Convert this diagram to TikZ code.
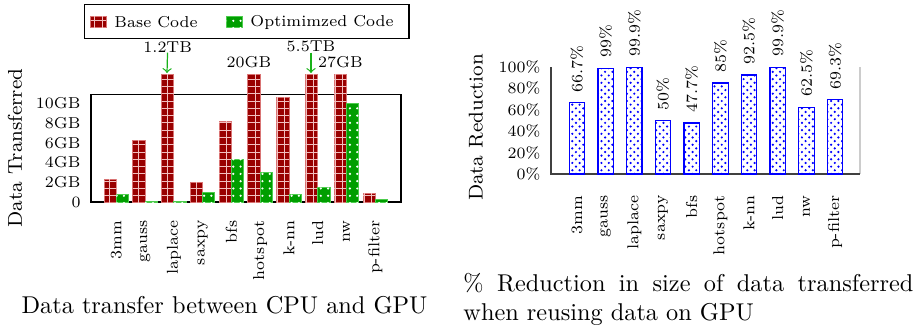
\documentclass[tikz,border=0pt]{standalone}
\usetikzlibrary{patterns}

\newlength{\du}
\setlength{\du}{0.4115pt}

\definecolor{basered}{rgb}{0.600000, 0.000000, 0.000000}
\definecolor{baseedge}{rgb}{0.850000, 0.450000, 0.450000}
\definecolor{basegrid}{rgb}{0.950000, 0.750000, 0.750000}
\definecolor{optgreen}{rgb}{0.000000, 0.620000, 0.000000}
\definecolor{optedge}{rgb}{0.300000, 0.800000, 0.300000}
\definecolor{markgreen}{rgb}{0.100000, 0.700000, 0.100000}
\definecolor{redblue}{rgb}{0.000000, 0.000000, 1.000000}

\tikzset{
  basebar/.style={fill=basered, draw=baseedge, line width=0.4pt,
    postaction={pattern=grid, pattern color=basegrid}},
  optbar/.style={fill=optgreen, draw=optedge, line width=0.4pt,
    postaction={pattern=dots, pattern color=white}},
  redbar/.style={fill=white, draw=redblue, line width=0.5pt,
    postaction={pattern=crosshatch dots, pattern color=redblue}},
  smalltxt/.style={font=\fontsize{6.5}{7.5}\selectfont, inner sep=0pt},
  ticklbl/.style={smalltxt, anchor=east},
  benchlbl/.style={smalltxt, rotate=90, anchor=east},
  pctlbl/.style={smalltxt, rotate=90, anchor=west},
  axislbl/.style={font=\fontsize{8.2}{9.5}\selectfont, rotate=90, inner sep=0pt},
  bigmark/.style={smalltxt},
  capt/.style={font=\fontsize{10}{12}\selectfont, inner sep=0pt}
}

\begin{document}
\begin{tikzpicture}
\pgftransformxscale{1.000000}
\pgftransformyscale{-1.000000}
\useasboundingbox (0\du,0\du) rectangle (923\du,327\du);

% left plot: frame
\draw[line width=0.5pt] (91\du,94.3\du) rectangle (401\du,202\du);
% base code bars
\draw[basebar] (104.0\du,202\du) rectangle (116.3\du,179.3\du);
\draw[basebar] (132.8\du,202\du) rectangle (145.1\du,140.0\du);
\draw[basebar] (161.6\du,202\du) rectangle (173.9\du,74.0\du);
\draw[basebar] (190.3\du,202\du) rectangle (202.6\du,182.0\du);
\draw[basebar] (219.1\du,202\du) rectangle (231.4\du,121.3\du);
\draw[basebar] (247.9\du,202\du) rectangle (260.2\du,74.0\du);
\draw[basebar] (276.7\du,202\du) rectangle (289.0\du,97.3\du);
\draw[basebar] (305.5\du,202\du) rectangle (317.8\du,74.0\du);
\draw[basebar] (334.2\du,202\du) rectangle (346.5\du,74.0\du);
\draw[basebar] (363.0\du,202\du) rectangle (375.3\du,193.7\du);
% optimized bars
\draw[optbar] (116.3\du,202\du) rectangle (128.6\du,194.3\du);
\draw[optbar] (145.1\du,202\du) rectangle (157.4\du,201.3\du);
\draw[optbar] (173.9\du,202\du) rectangle (186.2\du,201.3\du);
\draw[optbar] (202.6\du,202\du) rectangle (214.9\du,192.0\du);
\draw[optbar] (231.4\du,202\du) rectangle (243.7\du,159.7\du);
\draw[optbar] (260.2\du,202\du) rectangle (272.5\du,172.0\du);
\draw[optbar] (289.0\du,202\du) rectangle (301.3\du,194.0\du);
\draw[optbar] (317.8\du,202\du) rectangle (330.1\du,187.0\du);
\draw[optbar] (346.5\du,202\du) rectangle (358.8\du,103.0\du);
\draw[optbar] (375.3\du,202\du) rectangle (387.6\du,199.0\du);

% y ticks
\node[ticklbl] (lt0) at (81\du,202.0\du){0};
\node[ticklbl] (lt2) at (81\du,182.2\du){2GB};
\node[ticklbl] (lt4) at (81\du,162.4\du){4GB};
\node[ticklbl] (lt6) at (81\du,142.6\du){6GB};
\node[ticklbl] (lt8) at (81\du,122.8\du){8GB};
\node[ticklbl] (lt10) at (81\du,103.0\du){10GB};
\node[axislbl] (lylabel) at (15\du,148\du){Data Transferred};

% benchmark names
\node[benchlbl] (lb3mm) at (116.3\du,220\du){3mm};
\node[benchlbl] (lbgauss) at (145.1\du,220\du){gauss};
\node[benchlbl] (lblaplace) at (173.9\du,220\du){laplace};
\node[benchlbl] (lbsaxpy) at (202.6\du,220\du){saxpy};
\node[benchlbl] (lbbfs) at (231.4\du,220\du){bfs};
\node[benchlbl] (lbhotspot) at (260.2\du,220\du){hotspot};
\node[benchlbl] (lbknn) at (289.0\du,220\du){k-nn};
\node[benchlbl] (lblud) at (317.8\du,220\du){lud};
\node[benchlbl] (lbnw) at (346.5\du,220\du){nw};
\node[benchlbl] (lbpfilter) at (375.3\du,220\du){p-filter};

% values of the clipped bars
\node[bigmark] (tblaplace) at (167.7\du,46.7\du){1.2TB};
\node[bigmark] (tbhotspot) at (249.0\du,61.7\du){20GB};
\node[bigmark] (tblud) at (311.0\du,46.7\du){5.5TB};
\node[bigmark] (tbnw) at (340.4\du,61.7\du){27GB};
\coordinate (toplaplace) at (167.0\du,73.0\du);
\coordinate (toplud) at (311.0\du,73.0\du);
\draw[->, markgreen, line width=0.5pt] (tblaplace) -- (toplaplace);
\draw[->, markgreen, line width=0.5pt] (tblud) -- (toplud);

% legend
\node[draw=black, line width=0.5pt, minimum width=324.7\du, minimum height=34\du, inner sep=0pt] (legend) at (246.7\du,21.7\du){};
\draw[basebar] (90.7\du,16\du) rectangle (106\du,27\du);
\node[bigmark, anchor=west] (lgbase) at (114\du,22\du){Base Code};
\draw[optbar] (226.7\du,16\du) rectangle (242\du,27\du);
\node[bigmark, anchor=west] (lgopt) at (250\du,22\du){Optimimzed Code};

\node[capt] (leftcap) at (224.5\du,305.5\du){Data transfer between CPU and GPU};

% right plot: axis
\draw[black!20, line width=0.5pt] (860\du,67\du) -- (860\du,174\du);
\draw[black!75, line width=0.6pt] (551\du,67\du) -- (551\du,174\du) -- (860\du,174\du);
\draw[redbar] (569.3\du,174\du) rectangle (584.7\du,102.6\du);
\draw[redbar] (598.0\du,174\du) rectangle (613.4\du,68.1\du);
\draw[redbar] (626.6\du,174\du) rectangle (642.0\du,67.1\du);
\draw[redbar] (655.3\du,174\du) rectangle (670.7\du,120.5\du);
\draw[redbar] (684.0\du,174\du) rectangle (699.4\du,123.0\du);
\draw[redbar] (712.7\du,174\du) rectangle (728.1\du,83.0\du);
\draw[redbar] (741.3\du,174\du) rectangle (756.7\du,75.0\du);
\draw[redbar] (770.0\du,174\du) rectangle (785.4\du,67.1\du);
\draw[redbar] (798.7\du,174\du) rectangle (814.1\du,107.1\du);
\draw[redbar] (827.3\du,174\du) rectangle (842.7\du,99.8\du);

% percentages above bars
\node[pctlbl] (rv3mm) at (577.0\du,92.6\du){66.7\%};
\node[pctlbl] (rvgauss) at (605.7\du,58.1\du){99\%};
\node[pctlbl] (rvlaplace) at (634.3\du,57.1\du){99.9\%};
\node[pctlbl] (rvsaxpy) at (663.0\du,110.5\du){50\%};
\node[pctlbl] (rvbfs) at (691.7\du,113.0\du){47.7\%};
\node[pctlbl] (rvhotspot) at (720.4\du,73.0\du){85\%};
\node[pctlbl] (rvknn) at (749.0\du,65.0\du){92.5\%};
\node[pctlbl] (rvlud) at (777.7\du,57.1\du){99.9\%};
\node[pctlbl] (rvnw) at (806.4\du,97.1\du){62.5\%};
\node[pctlbl] (rvpfilter) at (835.0\du,89.8\du){69.3\%};

% y ticks
\node[ticklbl] (rt0) at (541\du,174.0\du){0\%};
\node[ticklbl] (rt20) at (541\du,152.6\du){20\%};
\node[ticklbl] (rt40) at (541\du,131.2\du){40\%};
\node[ticklbl] (rt60) at (541\du,109.8\du){60\%};
\node[ticklbl] (rt80) at (541\du,88.4\du){80\%};
\node[ticklbl] (rt100) at (541\du,67.0\du){100\%};
\node[axislbl] (rylabel) at (476\du,127.5\du){Data Reduction};

% benchmark names
\node[benchlbl] (rb3mm) at (577.0\du,195\du){3mm};
\node[benchlbl] (rbgauss) at (605.7\du,195\du){gauss};
\node[benchlbl] (rblaplace) at (634.3\du,195\du){laplace};
\node[benchlbl] (rbsaxpy) at (663.0\du,195\du){saxpy};
\node[benchlbl] (rbbfs) at (691.7\du,195\du){bfs};
\node[benchlbl] (rbhotspot) at (720.4\du,195\du){hotspot};
\node[benchlbl] (rbknn) at (749.0\du,195\du){k-nn};
\node[benchlbl] (rblud) at (777.7\du,195\du){lud};
\node[benchlbl] (rbnw) at (806.4\du,195\du){nw};
\node[benchlbl] (rbpfilter) at (835.0\du,195\du){p-filter};

\node[capt, anchor=base west] (rightcapa) at (463\du,291\du){\makebox[450\du][s]{\% Reduction in size of data transferred}};
\node[capt, anchor=base west] (rightcapb) at (463\du,320\du){when reusing data on GPU};
\end{tikzpicture}
\end{document}
